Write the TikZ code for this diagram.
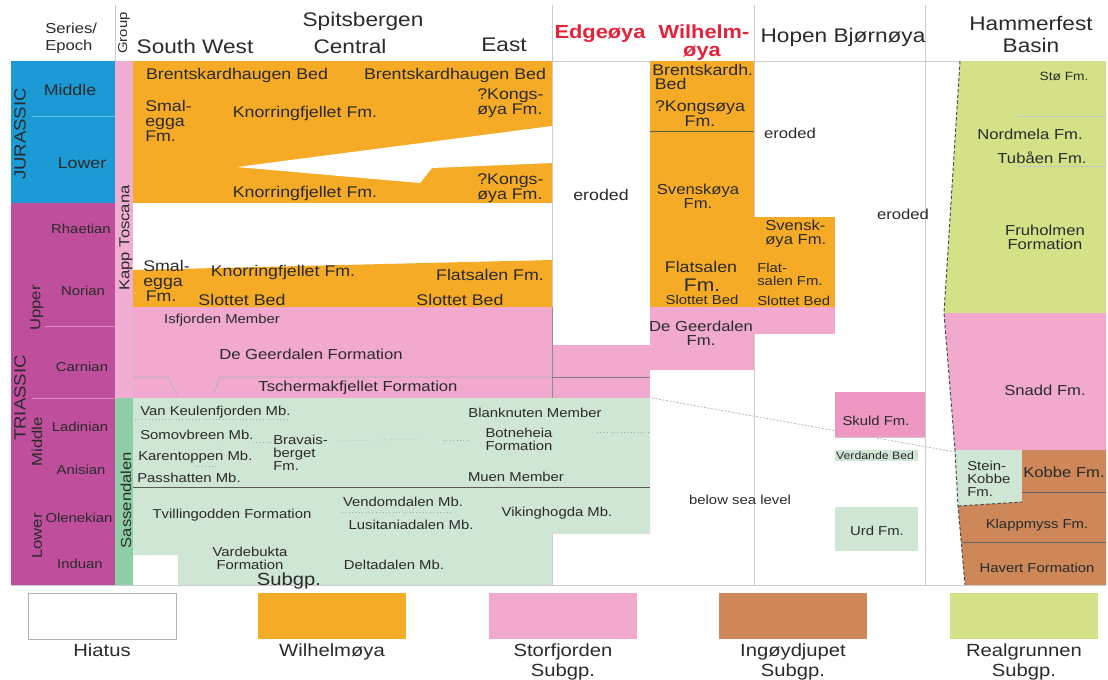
\documentclass[tikz,border=0pt]{standalone}
\usepackage{fontspec}
\setmainfont{Liberation Sans}[FakeStretch=1.15]
\usetikzlibrary{positioning}
\definecolor{jur}{HTML}{1B9AD6}
\definecolor{tri}{HTML}{BF4F9C}
\definecolor{kapp}{HTML}{F0AFD2}
\definecolor{sass}{HTML}{8ECFA6}
\definecolor{wil}{HTML}{F6AB27}
\definecolor{stor}{HTML}{F1A9CD}
\definecolor{skuld}{HTML}{EE97C2}
\definecolor{sassl}{HTML}{CFE6D4}
\definecolor{ingo}{HTML}{CD8759}
\definecolor{real}{HTML}{D5E187}
\definecolor{redhd}{HTML}{E4233A}
\definecolor{txt}{HTML}{2A2A2A}

\begin{document}
\begin{tikzpicture}[x=0.025cm, y=-0.025cm,
  lb/.style={font=\fontsize{11}{10.6}\selectfont, text=txt, inner sep=0pt, align=center},
  md/.style={font=\fontsize{10.3}{10}\selectfont, text=txt, inner sep=0pt, align=center},
  sm/.style={font=\fontsize{9.2}{9.4}\selectfont, text=txt, inner sep=0pt, align=center},
  xs/.style={font=\fontsize{7.6}{8}\selectfont, text=txt, inner sep=0pt},
  era/.style={font=\fontsize{11.5}{12}\selectfont, text=txt, inner sep=0pt, rotate=90},
  hd/.style={font=\fontsize{14}{15.6}\selectfont, text=txt, inner sep=0pt, align=center},
  rd/.style={font=\bfseries\fontsize{13.5}{12}\selectfont, text=redhd, inner sep=0pt, align=center},
  lg/.style={font=\fontsize{12.5}{14.3}\selectfont, text=txt, inner sep=0pt, align=center},
  legbox/.style={minimum width=3.7cm, minimum height=1.15cm, inner sep=0pt},
  gridln/.style={draw=gray!40, line width=0.6pt},
  darkln/.style={draw=black!65, line width=0.6pt},
  faintln/.style={draw=white, opacity=0.35, line width=0.6pt},
  dotln/.style={draw=gray!70, dotted, line width=0.4pt},
  bound/.style={draw=black!70, dash pattern=on 2.5pt off 1.5pt, line width=0.7pt}]
  \useasboundingbox (0,0) rectangle (1108,679);

  \draw[gridln] (11,61) -- (1106,61);
  \draw[gridln] (115,5) -- (115,61);
  \draw[gridln] (552,5) -- (552,585);
  \draw[gridln] (754,5) -- (754,585);
  \draw[gridln] (925,5) -- (925,585);

  \fill[jur] (11,61) rectangle (115,203);
  \fill[tri] (11,203) rectangle (115,585);
  \draw[faintln] (32,116) -- (115,116);
  \draw[faintln] (45,326) -- (115,326);
  \draw[faintln] (32,398) -- (115,398);
  \fill[kapp] (115,61) rectangle (133,398);
  \fill[sass] (115,398) rectangle (133,585);

  \fill[wil] (133,61) rectangle (552,203);
  \fill[white] (237,167) -- (552,126) -- (552,163) -- (432,168) -- (420,183) -- cycle;
  \fill[wil] (133,270) -- (552,260) -- (552,307) -- (133,307) -- cycle;
  \fill[stor] (133,307) rectangle (552,398);
  \fill[stor] (552,345) rectangle (650,398);
  \fill[sassl] (133,398) -- (650,398) -- (650,534) -- (552,534) -- (552,585)
    -- (178,585) -- (178,555) -- (133,555) -- cycle;
  \fill[wil] (650,61) rectangle (754,307);
  \fill[stor] (650,307) rectangle (754,370);
  \fill[wil] (754,217) rectangle (835,307);
  \fill[stor] (754,307) rectangle (835,334);

  \draw[gray!60, dash pattern=on 1.5pt off 1pt, line width=0.5pt] (652,398) -- (955,452);
  \fill[skuld] (835,392) rectangle (925,437);
  \draw[gridln] (835,437) -- (925,437);
  \fill[sassl] (835,450) rectangle (918,461);
  \fill[sassl] (835,507) rectangle (918,551);

  \fill[real] (960,61) -- (1106,61) -- (1106,313) -- (944,313) -- cycle;
  \fill[stor] (944,313) -- (1106,313) -- (1106,450) -- (955,450) -- cycle;
  \fill[sassl] (955,450) -- (1022,450) -- (1022,502) -- (958,506) -- cycle;
  \fill[ingo] (1022,450) -- (1106,450) -- (1106,585) -- (965,585) -- (958,506)
    -- (1022,502) -- cycle;
  \draw[gray!45, line width=0.5pt] (1017,116) -- (1106,116);
  \draw[gray!45, line width=0.5pt] (1017,166) -- (1106,166);
  \draw[black!60, line width=0.5pt] (1022,492) -- (1106,492);
  \draw[black!60, line width=0.5pt] (962,542) -- (1106,542);
  \draw[bound] (960,61) -- (944,313) -- (955,450) -- (958,506) -- (965,585);
  \draw[bound] (958,506) -- (1022,502);

  \draw[gridln] (11,585) -- (1106,585);
  \draw[black!45, line width=0.5pt] (552,307) -- (552,398);
  \draw[black!30, line width=0.5pt] (133,377) -- (168,377) -- (177,395);
  \draw[black!30, line width=0.5pt] (213,395) -- (220,377) -- (552,377);
  \draw[black!50, line width=0.5pt] (552,377) -- (650,377);
  \draw[darkln] (133,487) -- (650,487);
  \draw[darkln] (650,131) -- (754,131);
  \draw[dotln] (135,419) -- (290,419);
  \draw[dotln] (253,442) -- (271,442);
  \draw[dotln] (337,441) -- (420,439);
  \draw[dotln] (443,440) -- (467,440);
  \draw[dotln] (597,432) -- (648,432);
  \draw[dotln] (195,466) -- (217,466);
  \draw[dotln] (217,445) -- (227,457);
  \draw[dotln] (342,512) -- (453,512);

  \node[md, anchor=west, align=left, font=\fontsize{10.3}{12}\selectfont] (series) at (45,38) {Series/\\Epoch};
  \node[sm, rotate=90] (group) at (124,33) {Group};
  \node[hd] (spits) at (363,21) {Spitsbergen};
  \node[hd] (sw) at (195,46) {South West};
  \node[hd] (central) at (350,46) {Central};
  \node[hd] (east) at (504,45) {East};
  \node[rd] (edge) at (600,34) {Edgeøya};
  \node[rd] (wilh) at (704,32) {Wilhelm-};
  \node[rd] (wilhb) at (702,53) {øya};
  \node[hd] (hopen) at (843,37) {Hopen Bjørnøya};
  \node[hd] (hammer) at (1031,34) {Hammerfest\\Basin};

  \node[era] (jura) at (20,134) {JURASSIC};
  \node[lb] (jmid) at (70,90) {Middle};
  \node[lb] (jlow) at (82,163) {Lower};
  \node[era] (tria) at (20,398) {TRIASSIC};
  \node[md, rotate=90] (tup) at (37,308) {Upper};
  \node[md, rotate=90] (tmid) at (37,442) {Middle};
  \node[md, rotate=90] (tlow) at (37,536) {Lower};
  \node[sm] (rhae) at (81,229) {Rhaetian};
  \node[sm] (nori) at (83,291) {Norian};
  \node[sm] (carn) at (82,367) {Carnian};
  \node[sm] (ladi) at (80,427) {Ladinian};
  \node[sm] (anis) at (81,470) {Anisian};
  \node[sm] (olen) at (79,518) {Olenekian};
  \node[sm] (indu) at (80,564) {Induan};
  \node[md, rotate=90] (kappt) at (126,238) {Kapp Toscana};
  \node[md, rotate=90] (sassd) at (126,500) {Sassendalen};

  \node[lb] (brentSW) at (237,75) {Brentskardhaugen Bed};
  \node[lb] (brentE) at (455,75) {Brentskardhaugen Bed};
  \node[lb, anchor=west, align=left] (smalJ) at (145,121) {Smal-\\egga\\Fm.};
  \node[lb] (knorrJa) at (305,113) {Knorringfjellet Fm.};
  \node[lb, anchor=west, align=left] (kongsJa) at (477,103) {?Kongs-\\øya Fm.};
  \node[lb] (knorrJb) at (305,193) {Knorringfjellet Fm.};
  \node[lb, anchor=west, align=left] (kongsJb) at (477,188) {?Kongs-\\øya Fm.};

  \node[lb, anchor=west, align=left] (smalT) at (143,281) {Smal-\\egga\\\,Fm.};
  \node[lb] (knorrT) at (283,272) {Knorringfjellet Fm.};
  \node[lb] (flatS) at (490,275) {Flatsalen Fm.};
  \node[lb] (slotSW) at (242,300) {Slottet Bed};
  \node[lb] (slotE) at (460,300) {Slottet Bed};

  \node[sm] (isfj) at (222,320) {Isfjorden Member};
  \node[md] (geerS) at (311,354) {De Geerdalen Formation};
  \node[md] (tscher) at (358,388) {Tschermakfjellet Formation};

  \node[sm, anchor=west] (vankeul) at (140,412) {Van Keulenfjorden Mb.};
  \node[sm, anchor=west] (somov) at (140,435) {Somovbreen Mb.};
  \node[sm, anchor=west] (karen) at (138,457) {Karentoppen Mb.};
  \node[sm, anchor=west] (passh) at (137,478) {Passhatten Mb.};
  \node[sm, anchor=west, align=left] (bravais) at (273,453) {Bravais-\\berget\\Fm.};
  \node[sm] (blank) at (535,413) {Blanknuten Member};
  \node[sm] (botne) at (519,439) {Botneheia\\Formation};
  \node[sm] (muen) at (516,477) {Muen Member};
  \node[sm] (tvill) at (232,515) {Tvillingodden Formation};
  \node[sm] (vendom) at (403,502) {Vendomdalen Mb.};
  \node[sm] (lusit) at (411,525) {Lusitaniadalen Mb.};
  \node[sm] (viking) at (557,513) {Vikinghogda Mb.};
  \node[sm] (vardeb) at (250,558) {Vardebukta\\Formation};
  \node[sm] (deltad) at (394,565) {Deltadalen Mb.};
  \node[lg] (subgpS) at (289,581) {Subgp.};

  \node[lb] (erodE) at (601,195) {eroded};
  \node[lb, anchor=west, align=left] (brentW) at (652,77) {Brentskardh.\\\,Bed};
  \node[lb] (kongsW) at (700,114) {?Kongsøya\\Fm.};
  \node[md] (svenW) at (698,196) {Svenskøya\\Fm.};
  \node[lb] (flatW) at (701,267) {Flatsalen};
  \node[lb, font=\fontsize{13}{13}\selectfont] (flatWfm) at (702,285) {Fm.};
  \node[sm] (slotW) at (702,300) {Slottet Bed};
  \node[md] (geerW) at (701,333) {De Geerdalen\\Fm.};

  \node[md, anchor=west, align=left] (svenH) at (765,234) {Svensk-\\øya Fm.};
  \node[sm, anchor=west, align=left] (flatH) at (757,274) {Flat-\\salen Fm.};
  \node[sm, anchor=west] (slotH) at (757,301) {Slottet Bed};
  \node[md] (erodH) at (790,133) {eroded};
  \node[md] (erodB) at (903,214) {eroded};
  \node[sm] (belowsea) at (740,500) {below sea level};
  \node[sm] (skuldfm) at (876,421) {Skuld Fm.};
  \node[xs] (verd) at (875,456) {Verdande Bed};
  \node[sm] (urd) at (877,531) {Urd Fm.};

  \node[xs, font=\fontsize{8.5}{9}\selectfont] (stoe) at (1064,76) {Stø Fm.};
  \node[md] (nordm) at (1030,134) {Nordmela Fm.};
  \node[md] (tubaen) at (1042,158) {Tubåen Fm.};
  \node[md] (fruh) at (1045,237) {Fruholmen\\Formation};
  \node[md] (snadd) at (1045,390) {Snadd Fm.};
  \node[sm, anchor=west, align=left] (steink) at (967,479) {Stein-\\Kobbe\\Fm.};
  \node[md] (kobbe) at (1064,472) {Kobbe Fm.};
  \node[sm] (klapp) at (1037,525) {Klappmyss Fm.};
  \node[sm] (havert) at (1037,568) {Havert Formation};

  \node[legbox, draw=gray!60, fill=white] (lgHiatus) at (102,616) {};
  \node[legbox, fill=wil] (lgWil) at (332,616) {};
  \node[legbox, fill=stor] (lgStor) at (563,616) {};
  \node[legbox, fill=ingo] (lgIngo) at (793,616) {};
  \node[legbox, fill=real] (lgReal) at (1024,616) {};
  \node[lg, below=0.1cm of lgHiatus] (lHiatus) {Hiatus};
  \node[lg, below=0.1cm of lgWil] (lWil) {Wilhelmøya};
  \node[lg, below=0.1cm of lgStor] (lStor) {Storfjorden\\Subgp.};
  \node[lg, below=0.1cm of lgIngo] (lIngo) {Ingøydjupet\\Subgp.};
  \node[lg, below=0.1cm of lgReal] (lReal) {Realgrunnen\\Subgp.};
\end{tikzpicture}
\end{document}
